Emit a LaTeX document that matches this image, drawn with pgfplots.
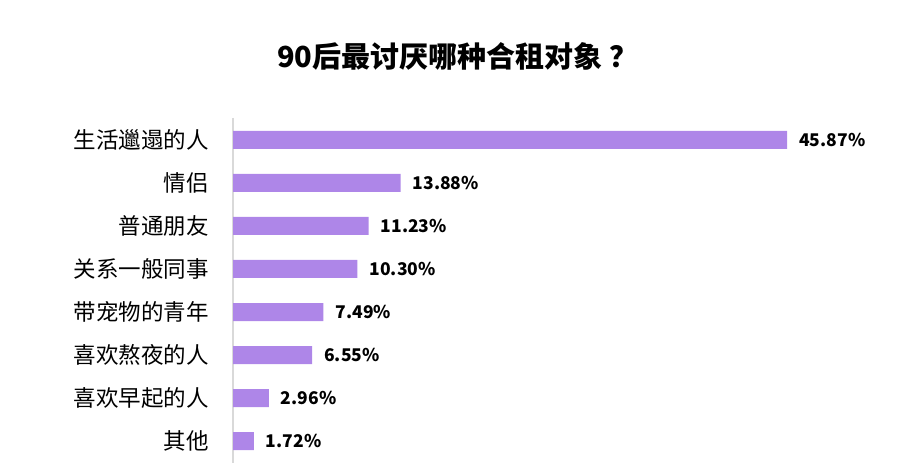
\documentclass[border=0pt]{standalone}
\usepackage{pgfplots}
\pgfplotsset{compat=1.18}
\usepackage{fontspec}
\newfontfamily\cjk{Noto Sans CJK SC}
\definecolor{barpurple}{HTML}{AE86E8}
\definecolor{axisgray}{HTML}{D9D9D9}

\begin{document}
\begin{tikzpicture}
    \path[use as bounding box] (0,0) rectangle (904pt,473pt);
    \node[font=\cjk\bfseries\fontsize{29}{31}\selectfont, inner sep=0pt]
        at (458pt,417pt) {90后最讨厌哪种合租对象\hspace{0.25em}？};
    \begin{axis}[
            at={(233pt,10pt)},
            anchor=south west,
            scale only axis,
            width=664.4pt,
            height=345pt,
            xbar,
            bar width=18pt,
            xmin=0, xmax=55,
            ymin=-0.51, ymax=7.51,
            y dir=reverse,
            hide x axis,
            axis y line*=left,
            y axis line style={axisgray, line width=1.2pt, -},
            ytick={0,1,2,3,4,5,6,7},
            yticklabels={生活邋遢的人, 情侣, 普通朋友, 关系一般同事, 带宠物的青年, 喜欢熬夜的人, 喜欢早起的人, 其他},
            major tick length=0pt,
            yticklabel style={font=\cjk\fontsize{22.5}{24}\selectfont, anchor=east, inner sep=0pt, xshift=-24pt},
            point meta=explicit symbolic,
            nodes near coords,
            nodes near coords style={font=\cjk\bfseries\fontsize{17.5}{19}\selectfont, anchor=west, inner sep=0pt, xshift=12pt},
            clip=false,
        ]
        \addplot[draw=none, fill=barpurple] coordinates {
            (45.87,0) [45.87\%]
            (13.88,1) [13.88\%]
            (11.23,2) [11.23\%]
            (10.30,3) [10.30\%]
            (7.49,4) [7.49\%]
            (6.55,5) [6.55\%]
            (2.96,6) [2.96\%]
            (1.72,7) [1.72\%]
        };
    \end{axis}
\end{tikzpicture}
\end{document}
